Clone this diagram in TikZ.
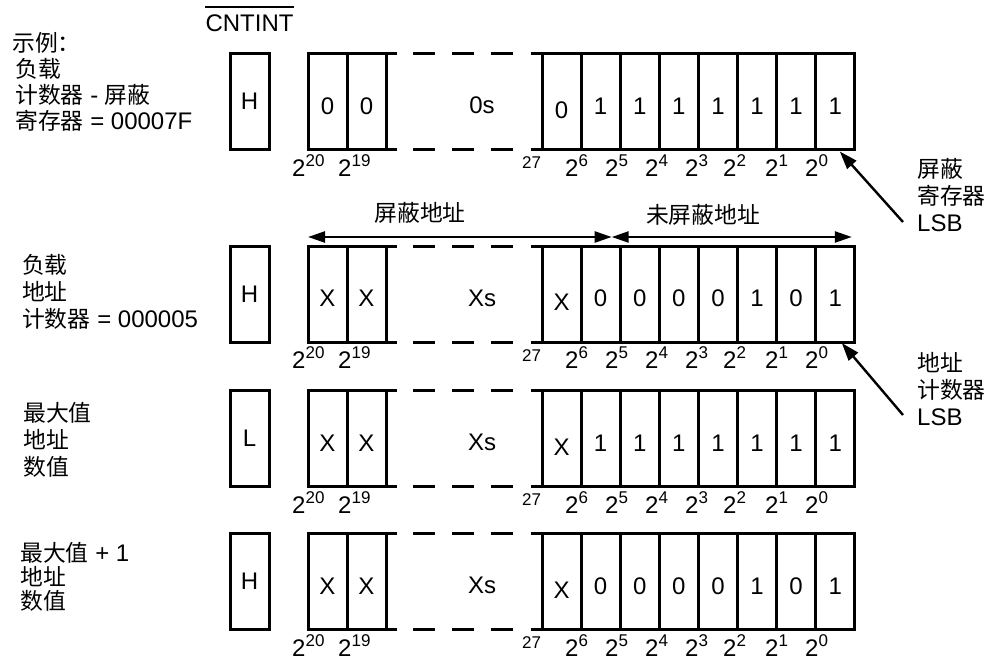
\documentclass[tikz,border=0pt]{standalone}
\usepackage{fontspec}
\setmainfont{Liberation Sans}
\newfontfamily\cjk[Scale=0.95]{Noto Sans CJK SC}
\usetikzlibrary{arrows.meta,positioning}

\newcommand{\zh}[1]{{\cjk #1}}
\newcommand{\twopow}[1]{2\raisebox{10pt}{\fontsize{17}{18}\selectfont #1}}

\begin{document}
\begin{tikzpicture}[x=1pt,y=-1pt,
  txt/.style={font=\fontsize{24}{27}\selectfont,inner sep=0pt},
  flag/.style={draw,line width=3pt,minimum width=39pt,minimum height=96pt,
               outer sep=0pt,inner sep=0pt,font=\fontsize{24}{27}\selectfont},
  cell/.style={flag,text height=25pt,text depth=0pt},
  bitcell/.style={cell,minimum width=39.1pt},
  lowcell/.style={bitcell,text height=33pt},
  brokenedge/.style={line width=3pt,dash pattern=on 11pt off 16pt on 22pt off 17pt
               on 22pt off 17pt on 22pt off 18pt on 20pt},
  spanarrow/.style={{Triangle[length=17pt,width=11pt]}-{Triangle[length=17pt,width=11pt]},
               line width=2.4pt},
  ptr/.style={-{Triangle[length=18pt,width=12pt]},line width=2.4pt}]
\useasboundingbox (0,0) rectangle (989,661);

% CNTINT heading
\node[txt] (cnt) at (249.5,23.5) {CNTINT};
\draw[line width=2pt] ([yshift=8pt]cnt.north west) -- ([yshift=8pt]cnt.north east);

% the four register rows
\foreach \r/\yc/\f/\a/\bits in {1/101.5/H/0/{1,1,1,1,1,1,1},
                                2/294/H/X/{0,0,0,0,1,0,1},
                                3/438.5/L/X/{1,1,1,1,1,1,1},
                                4/581.5/H/X/{0,0,0,0,1,0,1}}{
  \node[flag] (f-\r) at (249.5,\yc) {\f};
  \node[cell] (c20-\r) at (327.5,\yc) {\a};
  \node[cell,right=0pt of c20-\r] (c19-\r) {\a};
  \node[lowcell] (c7-\r) at (561.55,\yc) {\a};
  \foreach \v [count=\i, evaluate=\i as \b using int(7-\i),
               evaluate=\i as \p using int(8-\i)] in \bits
    \node[bitcell,right=0pt of c\p-\r] (c\b-\r) {\v};
  \draw[brokenedge] (c19-\r.north east) -- (c7-\r.north west);
  \draw[brokenedge] (c19-\r.south east) -- (c7-\r.south west);
  \node[txt] (rest-\r) at (482,\yc+4) {\a s};
  % bit weights
  \foreach \x/\e in {292/20,338/19,565/6,605/5,645/4,685/3,723/2,765/1,805/0}
    \node[txt,anchor=base west] (e\e-\r) at (\x,\yc+74.5) {\twopow{\e}};
  \node[txt,font=\fontsize{17}{18}\selectfont,anchor=base west] (e7-\r)
    at (522,\yc+67) {27};
}

% row captions
\node[txt,align=left,anchor=west,font=\fontsize{24}{26}\selectfont] (cap-1) at (12,82)
  {\zh{示例：}\\\hspace*{3pt}\zh{负载}\\\hspace*{3pt}\zh{计数器} - \zh{屏蔽}\\
   \hspace*{3pt}\zh{寄存器} = 00007F};
\node[txt,align=left,anchor=west] (cap-2) at (22,292)
  {\zh{负载}\\\zh{地址}\\\zh{计数器} = 000005};
\node[txt,align=left,anchor=west] (cap-3) at (23,440)
  {\zh{最大值}\\\zh{地址}\\\zh{数值}};
\node[txt,align=left,anchor=west,font=\fontsize{24}{24}\selectfont] (cap-4) at (20,577)
  {\zh{最大值} + 1\\\zh{地址}\\\zh{数值}};

% masked / unmasked ranges
\coordinate (mL) at ([yshift=9pt]c20-2.north west);
\coordinate (mM) at ([xshift=-8.5pt,yshift=9pt]c5-2.north west);
\coordinate (mR) at ([xshift=-3pt,yshift=9pt]c0-2.north east);
\draw[spanarrow] (mL) -- (mM);
\draw[spanarrow] (mM) -- (mR);
\node[txt] (masked) at (420,213) {\zh{屏蔽地址}};
\node[txt] (unmasked) at (703,215) {\zh{未屏蔽地址}};

% LSB pointers
\node[txt,align=left,anchor=west] (masklsb) at (917,195) {\zh{屏蔽}\\\zh{寄存器}\\LSB};
\node[txt,align=left,anchor=west] (cntlsb) at (917,389) {\zh{地址}\\\zh{计数器}\\LSB};
\coordinate (masktail) at (903,222);
\coordinate (cnttail) at (903,415);
\draw[ptr] (masktail) -- ([xshift=-15pt,yshift=-2pt]c0-1.south east);
\draw[ptr] (cnttail) -- ([xshift=-13pt,yshift=-1pt]c0-2.south east);
\end{tikzpicture}
\end{document}
